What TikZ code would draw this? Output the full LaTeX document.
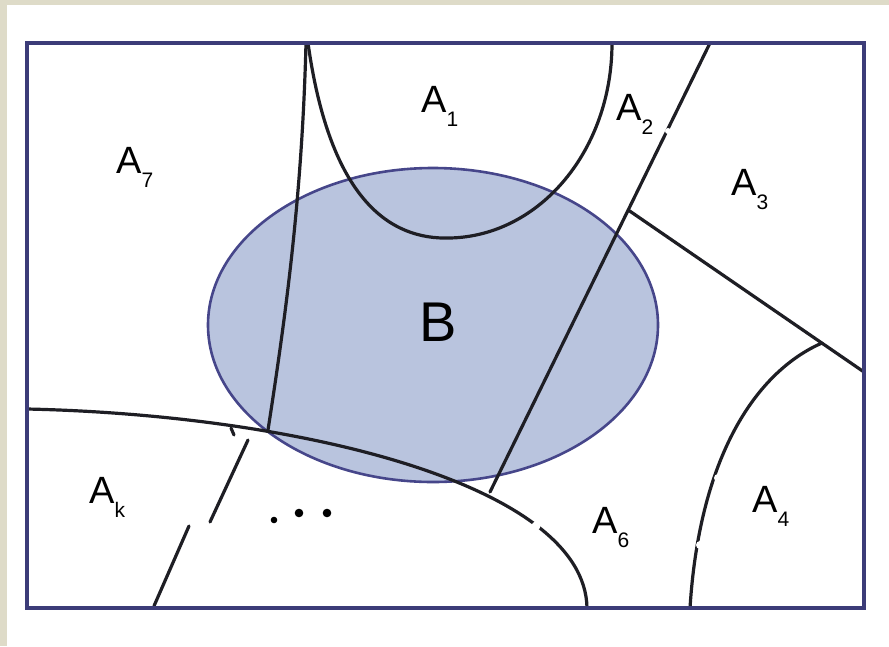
\documentclass[tikz,border=0pt]{standalone}
\usepackage{fontspec}
\setmainfont{Liberation Sans}
\usetikzlibrary{calc}
\definecolor{frame}{HTML}{3C3C78}
\definecolor{bfill}{HTML}{B9C4DE}
\definecolor{bline}{HTML}{46468A}
\definecolor{ink}{HTML}{1E1E24}
\definecolor{beige}{HTML}{DEDBC8}
\newcommand\sbs[1]{\raisebox{-14pt}{\fontsize{21}{21}\selectfont #1}}
\tikzset{
  lab/.style={inner sep=0pt, anchor=base west, font=\fontsize{38}{38}\selectfont},
  part/.style={ink, line width=3.2pt, line cap=round},
  gapmark/.style={fill=white, draw=none},
}
\begin{document}
\begin{tikzpicture}[x=1pt,y=-1pt]
\useasboundingbox (0,0) rectangle (889,646);
\fill[white] (0,0) rectangle (889,646);
\fill[beige] (0,0) rectangle (7,646);
\fill[beige] (0,0) rectangle (889,5);
% set B
\fill[bfill] (433,325) ellipse [x radius=225, y radius=157];
\draw[bline, line width=2.6pt] (433,325) ellipse [x radius=225, y radius=157];
% named points
\coordinate (t1) at (306,43);
\coordinate (m) at (268,430);
\coordinate (a1l) at (308,43);
\coordinate (a1b) at (450,238);
\coordinate (a1r) at (612,43);
\coordinate (t2) at (710,43);
\coordinate (e2) at (490,492);
\coordinate (j3) at (628.2,210);
\coordinate (r3) at (864,372);
\coordinate (j4) at (822,343);
\coordinate (b4) at (690,608);
\coordinate (lw) at (27,409);
\coordinate (b6) at (587,608);
% boundaries
\draw[part] (a1l) .. controls (330,200) and (390,240) .. (a1b)
             .. controls (540,236) and (612,150) .. (a1r);
\draw[part] (t1) .. controls (302,200) and (285,320) .. (m);
\draw[part] (t2) -- (j3) -- (e2);
\draw[part] (j3) -- (r3);
\draw[part] (j4) .. controls (760,370) and (700,450) .. (b4);
\draw[part] (lw) .. controls (300,415) and (585,485) .. (b6);
% broken lower-left boundary
\draw[part] (231,428) -- (234,435);
\draw[part] (248,440) -- (210,522);
\draw[part] (189,526) -- (154,606);
% gaps in the print
\fill[gapmark] (536,526) circle (4.5);
\fill[gapmark] (718,478) circle (4);
\fill[gapmark] (700,545) circle (4);
\fill[gapmark] (668,131) circle (3);
% frame
\draw[frame, line width=4pt] (27,43) rectangle (864,608);
% labels
\node[lab] (A1) at (421,112) {A\sbs{1}};
\node[lab] (A2) at (616,120) {A\sbs{2}};
\node[lab] (A3) at (731,195) {A\sbs{3}};
\node[lab] (A4) at (752,512) {A\sbs{4}};
\node[lab] (A6) at (592,533) {A\sbs{6}};
\node[lab] (A7) at (116,173) {A\sbs{7}};
\node[lab] (Ak) at (89,503) {A\sbs{k}};
\node[inner sep=0pt, font=\fontsize{56}{56}\selectfont] (B) at (438,322) {B};
\fill[black] (274,520) circle (3.3);
\fill[black] (299,513) circle (4.3);
\fill[black] (327,513) circle (4.3);
\end{tikzpicture}
\end{document}
